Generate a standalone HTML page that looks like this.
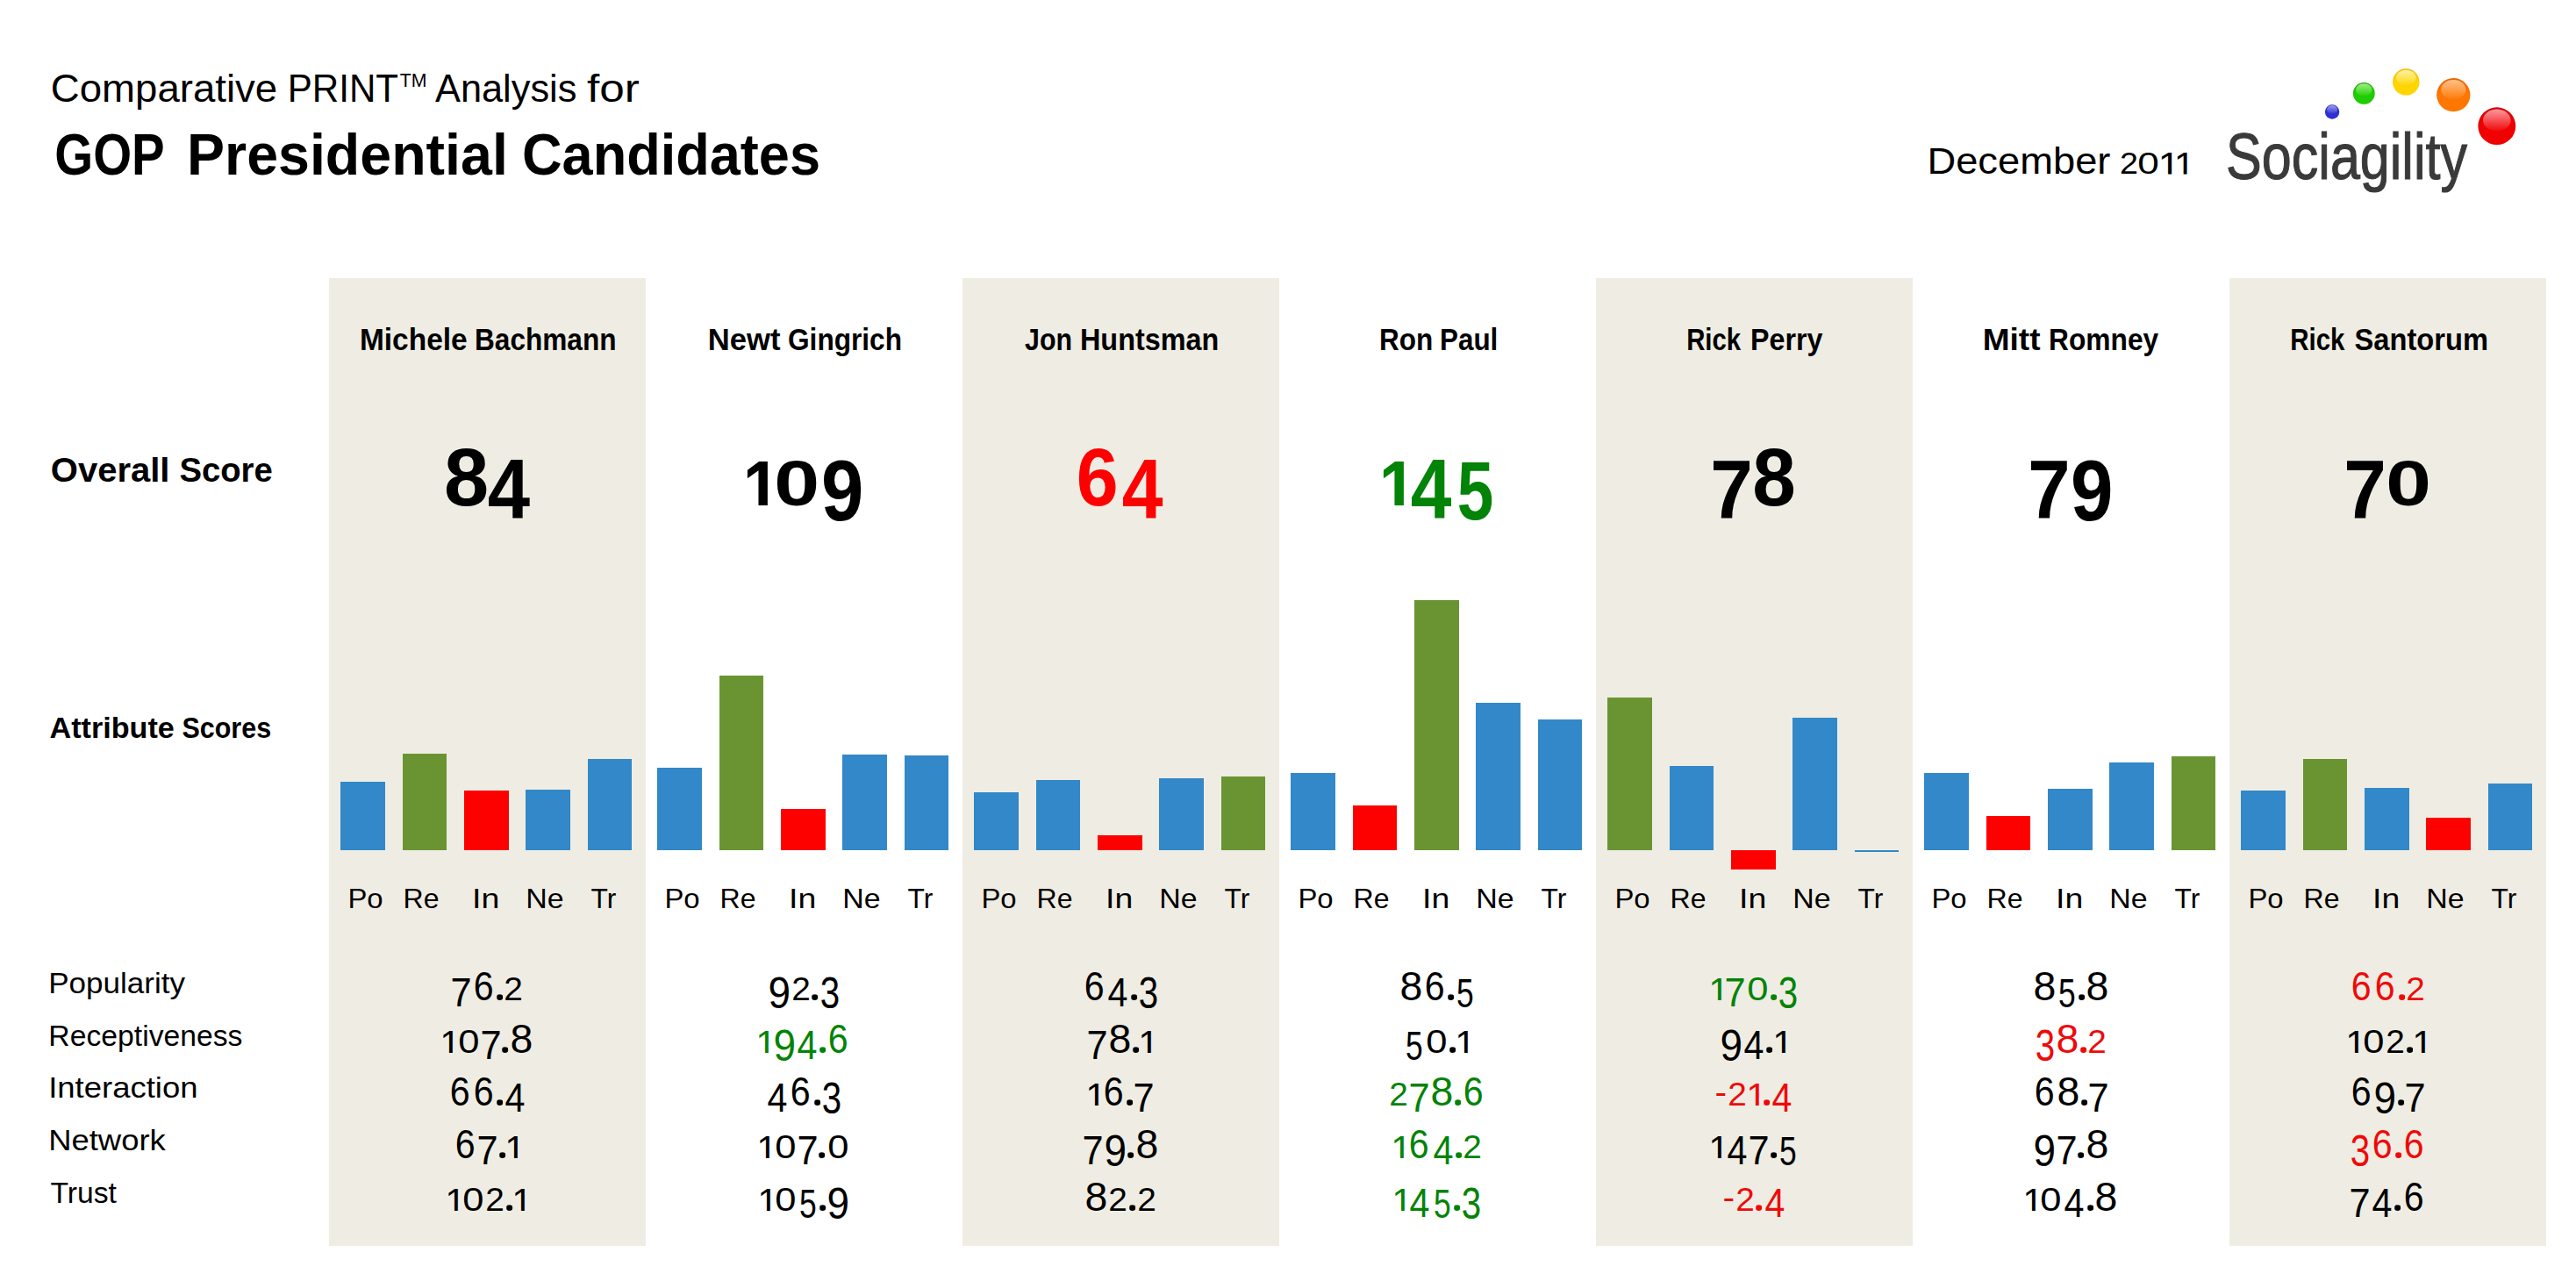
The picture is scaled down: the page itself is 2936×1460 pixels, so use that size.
<!DOCTYPE html>
<html lang="en"><head><meta charset="utf-8"><title>Comparative PRINT Analysis for GOP Presidential Candidates</title>
<style>
html,body{margin:0;padding:0;background:#fff}
body{width:2936px;height:1460px;position:relative;overflow:hidden;font-family:"Liberation Sans",sans-serif}
.t{position:absolute;white-space:nowrap;line-height:1}
.t span,.v span,.sc span{display:inline-block;text-align:left;vertical-align:baseline;line-height:1;transform-origin:0 0}
.v span,.sc span,.t span.d{transform-origin:0 84.67%}
.s{position:absolute;top:317px;width:361px;height:1103px;background:#efede3}
.b{position:absolute;width:50.6px}
.v{position:absolute;width:361px;text-align:center;white-space:nowrap;font:normal 45.0px/1 "Liberation Sans",sans-serif;height:45.0px;color:#000}
.sc{position:absolute;top:498.10px;white-space:nowrap;font:bold 92.0px/1 "Liberation Sans",sans-serif;height:92.0px}
.cg{color:#038307}.cr{color:#ee0a0a}.cR{color:#fe0000}
.r0{width:26.9px;transform:translate(1.30px,0.04px) scale(0.9669,0.8286)}
.r1{width:17.3px;clip-path:inset(-9px -9px 11.17px -9px);transform:translate(-1.79px,4.09px) scale(0.9472,0.9556)}
.r2{width:22.9px;transform:translate(0.35px,0.00px) scale(0.8634,0.8147)}
.r3{width:24.0px;transform:translate(0.67px,8.52px) scale(0.8952,1.0923)}
.r4{width:26.2px;transform:translate(1.45px,7.30px) scale(0.9173,1.0433)}
.r5{width:23.9px;transform:translate(1.98px,7.55px) scale(0.7874,1.0351)}
.r6{width:27.2px;transform:translate(1.71px,-0.05px) scale(0.9150,1.0169)}
.r7{width:23.8px;transform:translate(-0.62px,7.20px) scale(0.9630,1.0239)}
.r8{width:27px;transform:translate(0.58px,-0.05px) scale(1.0324,1.0169)}
.r9{width:26.4px;transform:translate(0.45px,8.52px) scale(1.0199,1.0985)}
.rd{width:9.3px;clip-path:circle(2.31px at 6.25px 35.70px);transform:translate(-5.61px,0.00px) scale(1.6337,1.4547)}
.rm{width:14.4px;transform:translate(0.38px,-2.01px) scale(0.9102,0.8818)}
</style></head><body>
<div class="s" style="left:375px"></div>
<div class="s" style="left:1097px"></div>
<div class="s" style="left:1819px"></div>
<div class="s" style="left:2541px"></div>
<div class="b" style="left:388.10px;top:891.09px;height:77.91px;background:#3288c8"></div>
<div class="b" style="left:458.55px;top:858.77px;height:110.23px;background:#6a9432"></div>
<div class="b" style="left:529.00px;top:901.11px;height:67.89px;background:#fd0000"></div>
<div class="b" style="left:599.45px;top:900.39px;height:68.61px;background:#3288c8"></div>
<div class="b" style="left:669.90px;top:864.60px;height:104.40px;background:#3288c8"></div>
<div class="b" style="left:749.10px;top:874.62px;height:94.38px;background:#3288c8"></div>
<div class="b" style="left:819.55px;top:770.02px;height:198.98px;background:#6a9432"></div>
<div class="b" style="left:890.00px;top:921.66px;height:47.34px;background:#fd0000"></div>
<div class="b" style="left:960.45px;top:859.59px;height:109.41px;background:#3288c8"></div>
<div class="b" style="left:1030.90px;top:860.72px;height:108.28px;background:#3288c8"></div>
<div class="b" style="left:1110.10px;top:903.25px;height:65.75px;background:#3288c8"></div>
<div class="b" style="left:1180.55px;top:889.14px;height:79.86px;background:#3288c8"></div>
<div class="b" style="left:1251.00px;top:951.92px;height:17.08px;background:#fd0000"></div>
<div class="b" style="left:1321.45px;top:887.40px;height:81.60px;background:#3288c8"></div>
<div class="b" style="left:1391.90px;top:884.95px;height:84.05px;background:#6a9432"></div>
<div class="b" style="left:1471.10px;top:880.55px;height:88.45px;background:#3288c8"></div>
<div class="b" style="left:1541.55px;top:917.77px;height:51.23px;background:#fd0000"></div>
<div class="b" style="left:1612.00px;top:684.13px;height:284.87px;background:#6a9432"></div>
<div class="b" style="left:1682.45px;top:801.11px;height:167.89px;background:#3288c8"></div>
<div class="b" style="left:1752.90px;top:820.43px;height:148.57px;background:#3288c8"></div>
<div class="b" style="left:1832.10px;top:794.87px;height:174.13px;background:#6a9432"></div>
<div class="b" style="left:1902.55px;top:872.78px;height:96.22px;background:#3288c8"></div>
<div class="b" style="left:1973.00px;top:969.00px;height:21.88px;background:#fd0000"></div>
<div class="b" style="left:2043.45px;top:818.18px;height:150.82px;background:#3288c8"></div>
<div class="b" style="left:2113.90px;top:969.00px;height:2.45px;background:#3288c8"></div>
<div class="b" style="left:2193.10px;top:881.27px;height:87.73px;background:#3288c8"></div>
<div class="b" style="left:2263.55px;top:929.94px;height:39.06px;background:#fd0000"></div>
<div class="b" style="left:2334.00px;top:898.75px;height:70.25px;background:#3288c8"></div>
<div class="b" style="left:2404.45px;top:869.00px;height:100.00px;background:#3288c8"></div>
<div class="b" style="left:2474.90px;top:861.84px;height:107.16px;background:#6a9432"></div>
<div class="b" style="left:2554.10px;top:901.31px;height:67.69px;background:#3288c8"></div>
<div class="b" style="left:2624.55px;top:864.60px;height:104.40px;background:#6a9432"></div>
<div class="b" style="left:2695.00px;top:897.73px;height:71.27px;background:#3288c8"></div>
<div class="b" style="left:2765.45px;top:931.58px;height:37.42px;background:#fd0000"></div>
<div class="b" style="left:2835.90px;top:892.72px;height:76.28px;background:#3288c8"></div>
<div class="t" style="left:60.40px;top:80.38px;font-size:43.6px;font-weight:normal;color:#000;"><span style="width:258.59px;transform:translate(-2.14px,0px) scaleX(1.0450)">Comparative</span> <span style="width:124.50px;transform:translate(-3.29px,0px) scaleX(0.9657)">PRINT</span><span style="font-size:21.8px;width:28.59px;transform:translate(-0.33px,-17.1px) scaleX(0.9742)">TM</span> <span style="width:160.99px;transform:translate(0.00px,0px) scaleX(0.9939)">Analysis</span> <span style="width:59.60px;transform:translate(0.00px,0px) scaleX(1.1763)">for</span></div>
<div class="t" style="left:64.30px;top:143.06px;font-size:66.9px;font-weight:bold;color:#000;"><span style="width:133.71px;transform:translate(-1.76px,0px) scaleX(0.8437)">GOP</span> <span style="width:361.81px;transform:translate(-4.03px,0px) scaleX(0.9649)">Presidential</span> <span style="width:335.50px;transform:translate(-1.97px,0px) scaleX(0.9430)">Candidates</span></div>
<div class="t" style="left:2199.80px;top:162.54px;font-size:42px;font-weight:normal;color:#000;"><span style="width:206.13px;transform:translate(-3.54px,0px) scaleX(1.0786)">December</span> <span class="d" style="width:20.4px;transform:translate(-1.90px,0.00px) scale(0.8989,0.8320)">2</span><span class="d" style="width:26.4px;transform:translate(-1.72px,-0.04px) scale(1.0509,0.8374)">0</span><span class="d" style="width:17.9px;clip-path:inset(-9px -9px 10.43px -9px);transform:translate(-4.41px,3.88px) scale(1.0929,0.9717)">1</span><span class="d" style="width:10.6px;clip-path:inset(-9px -9px 10.43px -9px);transform:translate(-4.17px,3.88px) scale(1.0343,0.9717)">1</span></div>
<div class="t" style="left:2539.00px;top:142.34px;font-size:74px;font-weight:normal;color:#3a3a3a;-webkit-text-stroke:1.1px #3a3a3a;"><span style="width:273.00px;transform:translate(-1.91px,0px) scaleX(0.8252)">Sociagility</span></div>
<div class="t" style="left:58.70px;top:516.90px;font-size:38.5px;font-weight:bold;color:#000;"><span style="width:135.80px;transform:translate(-1.25px,0px) scaleX(1.0395)">Overall</span> <span style="width:104.80px;transform:translate(-0.60px,0px) scaleX(0.9939)">Score</span></div>
<div class="t" style="left:56.80px;top:813.90px;font-size:32.6px;font-weight:bold;color:#000;"><span style="width:142.54px;transform:translate(-0.53px,0px) scaleX(1.0491)">Attribute</span> <span style="width:99.90px;transform:translate(-0.48px,0px) scaleX(0.9345)">Scores</span></div>
<div class="t" style="left:58.40px;top:1103.72px;font-size:33.4px;font-weight:normal;color:#000;"><span style="width:153.00px;transform:translate(-2.74px,0px) scaleX(1.0486)">Popularity</span></div>
<div class="t" style="left:58.40px;top:1163.72px;font-size:33.4px;font-weight:normal;color:#000;"><span style="width:217.40px;transform:translate(-2.63px,0px) scaleX(1.0092)">Receptiveness</span></div>
<div class="t" style="left:58.40px;top:1223.32px;font-size:33.4px;font-weight:normal;color:#000;"><span style="width:165.50px;transform:translate(-2.85px,0px) scaleX(1.0926)">Interaction</span></div>
<div class="t" style="left:58.40px;top:1283.22px;font-size:33.4px;font-weight:normal;color:#000;"><span style="width:131.40px;transform:translate(-2.85px,0px) scaleX(1.0913)">Network</span></div>
<div class="t" style="left:58.40px;top:1343.22px;font-size:33.4px;font-weight:normal;color:#000;"><span style="width:75.00px;transform:translate(-0.53px,0px) scaleX(1.0076)">Trust</span></div>
<div class="t" style="left:411.60px;top:369.54px;font-size:34.2px;font-weight:bold;color:#000;"><span style="width:121.50px;transform:translate(-2.09px,0px) scaleX(0.9791)">Michele</span> <span style="width:158.00px;transform:translate(-1.97px,0px) scaleX(0.9237)">Bachmann</span></div>
<div class="t" style="left:808.80px;top:369.54px;font-size:34.2px;font-weight:bold;color:#000;"><span style="width:81.20px;transform:translate(-2.16px,0px) scaleX(1.0125)">Newt</span> <span style="width:127.50px;transform:translate(-0.99px,0px) scaleX(0.9247)">Gingrich</span></div>
<div class="t" style="left:1168.30px;top:369.54px;font-size:34.2px;font-weight:bold;color:#000;"><span style="width:55.00px;transform:translate(0.00px,0px) scaleX(0.8876)">Jon</span> <span style="width:154.80px;transform:translate(-2.02px,0px) scaleX(0.9473)">Huntsman</span></div>
<div class="t" style="left:1573.70px;top:369.54px;font-size:34.2px;font-weight:bold;color:#000;"><span style="width:60.30px;transform:translate(-1.97px,0px) scaleX(0.9220)">Ron</span> <span style="width:62.50px;transform:translate(-1.96px,0px) scaleX(0.9182)">Paul</span></div>
<div class="t" style="left:1924.40px;top:369.54px;font-size:34.2px;font-weight:bold;color:#000;"><span style="width:63.40px;transform:translate(-1.84px,0px) scaleX(0.8589)">Rick</span> <span style="width:80.60px;transform:translate(-2.01px,0px) scaleX(0.9421)">Perry</span></div>
<div class="t" style="left:2262.10px;top:369.54px;font-size:34.2px;font-weight:bold;color:#000;"><span style="width:65.90px;transform:translate(-2.31px,0px) scaleX(1.0827)">Mitt</span> <span style="width:123.40px;transform:translate(-1.98px,0px) scaleX(0.9278)">Romney</span></div>
<div class="t" style="left:2611.80px;top:369.54px;font-size:34.2px;font-weight:bold;color:#000;"><span style="width:62.70px;transform:translate(-1.85px,0px) scaleX(0.8632)">Rick</span> <span style="width:150.00px;transform:translate(-0.51px,0px) scaleX(0.9555)">Santorum</span></div>
<div class="t" style="left:398.70px;top:1007.61px;font-size:32px;font-weight:normal;color:#000;"><span style="width:54.21px;transform:translate(-2.57px,0px) scaleX(1.0271)">Po</span> <span style="width:70.41px;transform:translate(-2.51px,0px) scaleX(1.0024)">Re</span> <span style="width:51.71px;transform:translate(-2.93px,0px) scaleX(1.1701)">In</span> <span style="width:63.81px;transform:translate(-2.65px,0px) scaleX(1.0590)">Ne</span> <span style="width:28.10px;transform:translate(-0.50px,0px) scaleX(0.9909)">Tr</span></div>
<div class="t" style="left:759.70px;top:1007.61px;font-size:32px;font-weight:normal;color:#000;"><span style="width:54.21px;transform:translate(-2.57px,0px) scaleX(1.0271)">Po</span> <span style="width:70.41px;transform:translate(-2.51px,0px) scaleX(1.0024)">Re</span> <span style="width:51.71px;transform:translate(-2.93px,0px) scaleX(1.1701)">In</span> <span style="width:63.81px;transform:translate(-2.65px,0px) scaleX(1.0590)">Ne</span> <span style="width:28.10px;transform:translate(-0.50px,0px) scaleX(0.9909)">Tr</span></div>
<div class="t" style="left:1120.70px;top:1007.61px;font-size:32px;font-weight:normal;color:#000;"><span style="width:54.21px;transform:translate(-2.57px,0px) scaleX(1.0271)">Po</span> <span style="width:70.41px;transform:translate(-2.51px,0px) scaleX(1.0024)">Re</span> <span style="width:51.71px;transform:translate(-2.93px,0px) scaleX(1.1701)">In</span> <span style="width:63.81px;transform:translate(-2.65px,0px) scaleX(1.0590)">Ne</span> <span style="width:28.10px;transform:translate(-0.50px,0px) scaleX(0.9909)">Tr</span></div>
<div class="t" style="left:1481.70px;top:1007.61px;font-size:32px;font-weight:normal;color:#000;"><span style="width:54.21px;transform:translate(-2.57px,0px) scaleX(1.0271)">Po</span> <span style="width:70.41px;transform:translate(-2.51px,0px) scaleX(1.0024)">Re</span> <span style="width:51.71px;transform:translate(-2.93px,0px) scaleX(1.1701)">In</span> <span style="width:63.81px;transform:translate(-2.65px,0px) scaleX(1.0590)">Ne</span> <span style="width:28.10px;transform:translate(-0.50px,0px) scaleX(0.9909)">Tr</span></div>
<div class="t" style="left:1842.70px;top:1007.61px;font-size:32px;font-weight:normal;color:#000;"><span style="width:54.21px;transform:translate(-2.57px,0px) scaleX(1.0271)">Po</span> <span style="width:70.41px;transform:translate(-2.51px,0px) scaleX(1.0024)">Re</span> <span style="width:51.71px;transform:translate(-2.93px,0px) scaleX(1.1701)">In</span> <span style="width:63.81px;transform:translate(-2.65px,0px) scaleX(1.0590)">Ne</span> <span style="width:28.10px;transform:translate(-0.50px,0px) scaleX(0.9909)">Tr</span></div>
<div class="t" style="left:2203.70px;top:1007.61px;font-size:32px;font-weight:normal;color:#000;"><span style="width:54.21px;transform:translate(-2.57px,0px) scaleX(1.0271)">Po</span> <span style="width:70.41px;transform:translate(-2.51px,0px) scaleX(1.0024)">Re</span> <span style="width:51.71px;transform:translate(-2.93px,0px) scaleX(1.1701)">In</span> <span style="width:63.81px;transform:translate(-2.65px,0px) scaleX(1.0590)">Ne</span> <span style="width:28.10px;transform:translate(-0.50px,0px) scaleX(0.9909)">Tr</span></div>
<div class="t" style="left:2564.70px;top:1007.61px;font-size:32px;font-weight:normal;color:#000;"><span style="width:54.21px;transform:translate(-2.57px,0px) scaleX(1.0271)">Po</span> <span style="width:70.41px;transform:translate(-2.51px,0px) scaleX(1.0024)">Re</span> <span style="width:51.71px;transform:translate(-2.93px,0px) scaleX(1.1701)">In</span> <span style="width:63.81px;transform:translate(-2.65px,0px) scaleX(1.0590)">Ne</span> <span style="width:28.10px;transform:translate(-0.50px,0px) scaleX(0.9909)">Tr</span></div>
<svg style="position:absolute;left:2620px;top:60px" width="280" height="120" viewBox="0 0 280 120"><defs><radialGradient id="g0" cx="50%" cy="62%" r="62%"><stop offset="0" stop-color="#3030d2"/><stop offset=".72" stop-color="#3030d2"/><stop offset="1" stop-color="#2626b0"/></radialGradient><linearGradient id="h0" x1="0" y1="0" x2="0" y2="1"><stop offset="0" stop-color="#a0a4f6" stop-opacity=".92"/><stop offset="1" stop-color="#a0a4f6" stop-opacity=".06"/></linearGradient><radialGradient id="g1" cx="50%" cy="62%" r="62%"><stop offset="0" stop-color="#1fcc00"/><stop offset=".72" stop-color="#1fcc00"/><stop offset="1" stop-color="#20a808"/></radialGradient><linearGradient id="h1" x1="0" y1="0" x2="0" y2="1"><stop offset="0" stop-color="#aaf590" stop-opacity=".92"/><stop offset="1" stop-color="#aaf590" stop-opacity=".06"/></linearGradient><radialGradient id="g2" cx="50%" cy="62%" r="62%"><stop offset="0" stop-color="#ffd500"/><stop offset=".72" stop-color="#ffd500"/><stop offset="1" stop-color="#f2ba08"/></radialGradient><linearGradient id="h2" x1="0" y1="0" x2="0" y2="1"><stop offset="0" stop-color="#fff6b4" stop-opacity=".92"/><stop offset="1" stop-color="#fff6b4" stop-opacity=".06"/></linearGradient><radialGradient id="g3" cx="50%" cy="62%" r="62%"><stop offset="0" stop-color="#ff7600"/><stop offset=".72" stop-color="#ff7600"/><stop offset="1" stop-color="#ea6400"/></radialGradient><linearGradient id="h3" x1="0" y1="0" x2="0" y2="1"><stop offset="0" stop-color="#ffc896" stop-opacity=".92"/><stop offset="1" stop-color="#ffc896" stop-opacity=".06"/></linearGradient><radialGradient id="g4" cx="50%" cy="62%" r="62%"><stop offset="0" stop-color="#f00000"/><stop offset=".72" stop-color="#f00000"/><stop offset="1" stop-color="#d20000"/></radialGradient><linearGradient id="h4" x1="0" y1="0" x2="0" y2="1"><stop offset="0" stop-color="#ffa6ac" stop-opacity=".92"/><stop offset="1" stop-color="#ffa6ac" stop-opacity=".06"/></linearGradient></defs><circle cx="38.1" cy="67.5" r="8.2" fill="url(#g0)"/><ellipse cx="38.1" cy="64.9" rx="6.1" ry="4.8" fill="url(#h0)"/><circle cx="74.3" cy="46.4" r="12.4" fill="url(#g1)"/><ellipse cx="74.3" cy="42.4" rx="9.2" ry="7.2" fill="url(#h1)"/><circle cx="122.3" cy="33.4" r="15.2" fill="url(#g2)"/><ellipse cx="122.3" cy="28.5" rx="11.2" ry="8.8" fill="url(#h2)"/><circle cx="176.3" cy="48.2" r="19.1" fill="url(#g3)"/><ellipse cx="176.3" cy="42.1" rx="14.1" ry="11.1" fill="url(#h3)"/><circle cx="225.8" cy="83.7" r="21.4" fill="url(#g4)"/><ellipse cx="225.8" cy="76.9" rx="15.8" ry="12.4" fill="url(#h4)"/></svg>
<div class="sc" style="left:508.8px"><span class="d" style="width:48.2px;transform:translate(-2.92px,0.09px) scale(0.9996,1.0133)">8</span><span class="d" style="width:46.6px;transform:translate(-1.32px,15.00px) scale(0.9456,1.0506)">4</span></div>
<div class="sc" style="left:851.8px"><span class="d" style="width:33.9px;clip-path:inset(-9px -9px 24.68px -9px);transform:translate(-5.16px,10.04px) scale(0.8251,0.9485)">1</span><span class="d" style="width:53.2px;transform:translate(-3.68px,0.29px) scale(1.0125,0.7922)">0</span><span class="d" style="width:42.1px;transform:translate(-3.01px,17.34px) scale(0.9447,1.0716)">9</span></div>
<div class="sc cR" style="left:1230.4px"><span class="d" style="width:49.5px;transform:translate(-3.15px,0.29px) scale(0.9354,1.0086)">6</span><span class="d" style="width:45.1px;transform:translate(-1.27px,15.00px) scale(0.9152,1.0506)">4</span></div>
<div class="sc cg" style="left:1576.6px"><span class="d" style="width:32.4px;clip-path:inset(-9px -9px 24.68px -9px);transform:translate(-5.16px,10.04px) scale(0.8251,0.9485)">1</span><span class="d" style="width:53.8px;transform:translate(-1.27px,15.00px) scale(0.9132,1.0506)">4</span><span class="d" style="width:37.2px;transform:translate(-2.30px,15.67px) scale(0.8127,1.0375)">5</span></div>
<div class="sc" style="left:1953.0px"><span class="d" style="width:47.0px;transform:translate(-3.75px,14.60px) scale(0.9497,1.0206)">7</span><span class="d" style="width:44.0px;transform:translate(-2.83px,0.09px) scale(0.9688,1.0133)">8</span></div>
<div class="sc" style="left:2314.6px"><span class="d" style="width:48.9px;transform:translate(-3.74px,14.60px) scale(0.9451,1.0206)">7</span><span class="d" style="width:42.2px;transform:translate(-3.02px,17.34px) scale(0.9470,1.0716)">9</span></div>
<div class="sc" style="left:2675.0px"><span class="d" style="width:47.6px;transform:translate(-3.75px,14.60px) scale(0.9497,1.0206)">7</span><span class="d" style="width:44.2px;transform:translate(-3.68px,0.29px) scale(1.0102,0.7922)">0</span></div>
<div class="v" style="left:375px;top:1101.90px"><span class="r7">7</span><span class="r6">6</span><span class="rd">.</span><span class="r2">2</span></div>
<div class="v" style="left:375px;top:1161.90px"><span class="r1">1</span><span class="r0">0</span><span class="r7">7</span><span class="rd">.</span><span class="r8">8</span></div>
<div class="v" style="left:375px;top:1221.90px"><span class="r6">6</span><span class="r6">6</span><span class="rd">.</span><span class="r4">4</span></div>
<div class="v" style="left:375px;top:1281.90px"><span class="r6">6</span><span class="r7">7</span><span class="rd">.</span><span class="r1">1</span></div>
<div class="v" style="left:375px;top:1341.90px"><span class="r1">1</span><span class="r0">0</span><span class="r2">2</span><span class="rd">.</span><span class="r1">1</span></div>
<div class="v" style="left:736px;top:1101.90px"><span class="r9">9</span><span class="r2">2</span><span class="rd">.</span><span class="r3">3</span></div>
<div class="v cg" style="left:736px;top:1161.90px"><span class="r1">1</span><span class="r9">9</span><span class="r4">4</span><span class="rd">.</span><span class="r6">6</span></div>
<div class="v" style="left:736px;top:1221.90px"><span class="r4">4</span><span class="r6">6</span><span class="rd">.</span><span class="r3">3</span></div>
<div class="v" style="left:736px;top:1281.90px"><span class="r1">1</span><span class="r0">0</span><span class="r7">7</span><span class="rd">.</span><span class="r0">0</span></div>
<div class="v" style="left:736px;top:1341.90px"><span class="r1">1</span><span class="r0">0</span><span class="r5">5</span><span class="rd">.</span><span class="r9">9</span></div>
<div class="v" style="left:1097px;top:1101.90px"><span class="r6">6</span><span class="r4">4</span><span class="rd">.</span><span class="r3">3</span></div>
<div class="v" style="left:1097px;top:1161.90px"><span class="r7">7</span><span class="r8">8</span><span class="rd">.</span><span class="r1">1</span></div>
<div class="v" style="left:1097px;top:1221.90px"><span class="r1">1</span><span class="r6">6</span><span class="rd">.</span><span class="r7">7</span></div>
<div class="v" style="left:1097px;top:1281.90px"><span class="r7">7</span><span class="r9">9</span><span class="rd">.</span><span class="r8">8</span></div>
<div class="v" style="left:1097px;top:1341.90px"><span class="r8">8</span><span class="r2">2</span><span class="rd">.</span><span class="r2">2</span></div>
<div class="v" style="left:1458px;top:1101.90px"><span class="r8">8</span><span class="r6">6</span><span class="rd">.</span><span class="r5">5</span></div>
<div class="v" style="left:1458px;top:1161.90px"><span class="r5">5</span><span class="r0">0</span><span class="rd">.</span><span class="r1">1</span></div>
<div class="v cg" style="left:1458px;top:1221.90px"><span class="r2">2</span><span class="r7">7</span><span class="r8">8</span><span class="rd">.</span><span class="r6">6</span></div>
<div class="v cg" style="left:1458px;top:1281.90px"><span class="r1">1</span><span class="r6">6</span><span class="r4">4</span><span class="rd">.</span><span class="r2">2</span></div>
<div class="v cg" style="left:1458px;top:1341.90px"><span class="r1">1</span><span class="r4">4</span><span class="r5">5</span><span class="rd">.</span><span class="r3">3</span></div>
<div class="v cg" style="left:1819px;top:1101.90px"><span class="r1">1</span><span class="r7">7</span><span class="r0">0</span><span class="rd">.</span><span class="r3">3</span></div>
<div class="v" style="left:1819px;top:1161.90px"><span class="r9">9</span><span class="r4">4</span><span class="rd">.</span><span class="r1">1</span></div>
<div class="v cr" style="left:1819px;top:1221.90px"><span class="rm">-</span><span class="r2">2</span><span class="r1">1</span><span class="rd">.</span><span class="r4">4</span></div>
<div class="v" style="left:1819px;top:1281.90px"><span class="r1">1</span><span class="r4">4</span><span class="r7">7</span><span class="rd">.</span><span class="r5">5</span></div>
<div class="v cr" style="left:1819px;top:1341.90px"><span class="rm">-</span><span class="r2">2</span><span class="rd">.</span><span class="r4">4</span></div>
<div class="v" style="left:2180px;top:1101.90px"><span class="r8">8</span><span class="r5">5</span><span class="rd">.</span><span class="r8">8</span></div>
<div class="v cr" style="left:2180px;top:1161.90px"><span class="r3">3</span><span class="r8">8</span><span class="rd">.</span><span class="r2">2</span></div>
<div class="v" style="left:2180px;top:1221.90px"><span class="r6">6</span><span class="r8">8</span><span class="rd">.</span><span class="r7">7</span></div>
<div class="v" style="left:2180px;top:1281.90px"><span class="r9">9</span><span class="r7">7</span><span class="rd">.</span><span class="r8">8</span></div>
<div class="v" style="left:2180px;top:1341.90px"><span class="r1">1</span><span class="r0">0</span><span class="r4">4</span><span class="rd">.</span><span class="r8">8</span></div>
<div class="v cr" style="left:2541px;top:1101.90px"><span class="r6">6</span><span class="r6">6</span><span class="rd">.</span><span class="r2">2</span></div>
<div class="v" style="left:2541px;top:1161.90px"><span class="r1">1</span><span class="r0">0</span><span class="r2">2</span><span class="rd">.</span><span class="r1">1</span></div>
<div class="v" style="left:2541px;top:1221.90px"><span class="r6">6</span><span class="r9">9</span><span class="rd">.</span><span class="r7">7</span></div>
<div class="v cr" style="left:2541px;top:1281.90px"><span class="r3">3</span><span class="r6">6</span><span class="rd">.</span><span class="r6">6</span></div>
<div class="v" style="left:2541px;top:1341.90px"><span class="r7">7</span><span class="r4">4</span><span class="rd">.</span><span class="r6">6</span></div>
</body></html>
